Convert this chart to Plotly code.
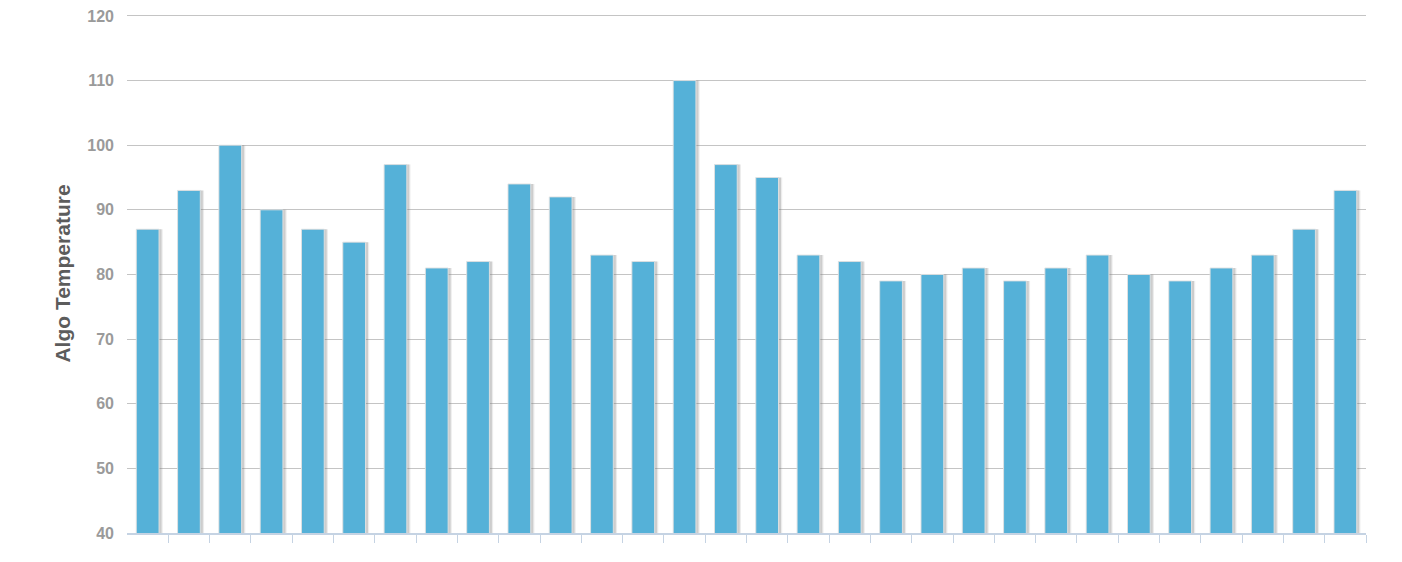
import plotly.graph_objects as go

# one bar per reading, x axis carries no labels in the source chart
slots = list(range(1, 31))
algo_temp = [87, 93, 100, 90, 87, 85, 97, 81, 82, 94,
             92, 83, 82, 110, 97, 95, 83, 82, 79, 80,
             81, 79, 81, 83, 80, 79, 81, 83, 87, 93]
y_ticks = [40, 50, 60, 70, 80, 90, 100, 110, 120]

bar_w = 0.55

fig = go.Figure()
# soft drop shadow behind each bar
fig.add_trace(go.Bar(x=slots, y=algo_temp, width=bar_w + 0.04, offset=-bar_w / 2 + 0.05,
                     marker=dict(color="rgba(150,150,150,0.18)", line=dict(width=0)),
                     hoverinfo="skip", showlegend=False))
fig.add_trace(go.Bar(x=slots, y=algo_temp, width=bar_w, offset=-bar_w / 2 + 0.06,
                     marker=dict(color="rgba(110,110,110,0.25)", line=dict(width=0)),
                     hoverinfo="skip", showlegend=False))
fig.add_trace(go.Bar(x=slots, y=algo_temp, width=bar_w, offset=-bar_w / 2,
                     marker=dict(color="#55b1d8", line=dict(color="rgba(225,225,225,0.9)", width=1)),
                     name="Algo Temperature", showlegend=False))

# page body adds 8px around the figure, so size it to fit the 1402x562 window
fig.update_layout(
    width=1394, height=554,
    barmode="overlay",
    plot_bgcolor="white", paper_bgcolor="white",
    margin=dict(l=119, r=36, t=6, b=29),
    font=dict(family="Liberation Sans, Arial, sans-serif"),
)
fig.update_xaxes(
    range=[0.5, 30.5],
    tickvals=[s + 0.5 for s in slots],
    showticklabels=False,
    ticks="outside", ticklen=8, tickcolor="#c5d3e3", tickwidth=1,
    showline=True, linecolor="#c5d3e3", linewidth=2,
    showgrid=False, zeroline=False,
    automargin=False,
)
# top of range a hair above 120 so its gridline is not clipped at the edge
fig.update_yaxes(
    range=[40, 120.3],
    tickvals=y_ticks,
    tickfont=dict(size=16, color="#9a9a9a", weight="bold"),
    ticklabelstandoff=12,
    ticklabeloverflow="allow",
    automargin=False,
    showgrid=True, gridcolor="#c4c4c4", gridwidth=1,
    zeroline=False, showline=False,
    title=dict(text="Algo Temperature", standoff=10,
               font=dict(size=21, color="#5c5c5c", weight="bold")),
)

fig.write_html("out.html")
